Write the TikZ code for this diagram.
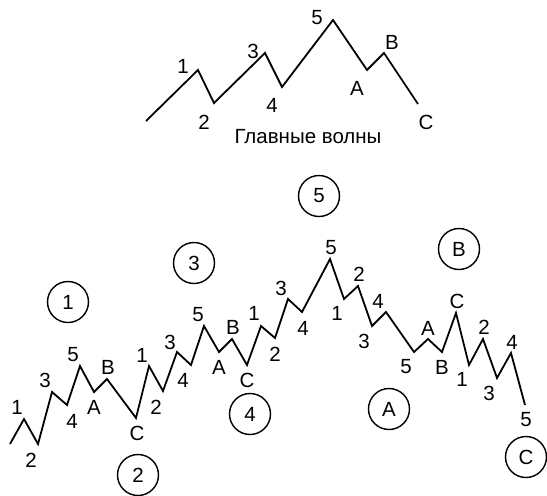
\documentclass[tikz,border=0pt]{standalone}
\usepackage{fontspec}
\setmainfont{Liberation Sans}
\begin{document}
\begin{tikzpicture}[x=1pt,y=-1pt,
  wave/.style={line width=1.8pt,line join=miter},
  lbl/.style={font=\fontsize{20.5}{24}\selectfont,inner sep=0pt},
  ring/.style={circle,draw,line width=1.4pt,minimum size=41pt,inner sep=0pt,font=\fontsize{20.5}{24}\selectfont}]
\useasboundingbox (0,0) rectangle (547,496);

% ---- main waves (top)
\foreach \n/\x/\y in {s/146/121,p1/198/70,p2/214/103,p3/265/53,p4/282/87,p5/333/20,pA/367/70,pB/384/53,pC/418/104}
  \coordinate (t\n) at (\x,\y);
\draw[wave] (ts) -- (tp1) -- (tp2) -- (tp3) -- (tp4) -- (tp5) -- (tpA) -- (tpB) -- (tpC);
\foreach \t/\x/\y in {1/183/66,2/204/122,3/253/51,4/272/105,5/317/18,A/357/88,B/392/42,C/426/122}
  \node[lbl] (tl\t) at (\x,\y) {\t};
\node[lbl] (title) at (308,137) {Главные волны};

% ---- detailed waves (bottom)
\foreach \n/\x/\y in {0/10/444,1/24/419,2/38/444,3/52/392,4/67/405,5/80/366,6/94/392,7/107/379,8/136/418,
  9/149/366,10/163/391,11/177/352,12/191/365,13/204/326,14/219/352,15/232/339,16/247/365,
  17/261/326,18/275/338,19/288/299,20/302/312,21/330/259,
  22/344/299,23/358/286,24/372/326,25/386/312,26/414/352,27/428/339,28/442/352,
  29/456/313,30/469/365,31/483/339,32/497/378,33/511/353,34/525/405}
  \coordinate (b\n) at (\x,\y);
\draw[wave] (b0)
  \foreach \i in {1,...,34} { -- (b\i) };

\foreach \i/\t/\x/\y in {1/1/17/407,2/2/31/460,3/3/45/380,4/4/72/421,5/5/73/355,6/A/94/407,7/B/108/367,8/C/137/433,
  9/1/142/355,10/2/156/407,11/3/170/342,12/4/183/380,13/5/198/315,14/A/219/367,15/B/233/327,16/C/247/380,
  17/1/254/313,18/2/275/354,19/3/281/288,20/4/303/328,21/5/331/248,
  22/1/337/313,23/2/359/274,24/3/364/341,25/4/378/301,26/5/406/367,27/A/428/328,28/B/442/367,
  29/C/457/301,30/1/462/379,31/2/484/327,32/3/489/393,33/4/512/342,34/5/526/420}
  \node[lbl] (bl\i) at (\x,\y) {\t};

% ---- wave degree markers
\node[ring] (c1) at (68,302) {1};
\node[ring] (c2) at (138,475) {2};
\node[ring] (c3) at (194,263) {3};
\node[ring] (c4) at (250,414) {4};
\node[ring] (c5) at (319,196) {5};
\node[ring] (cA) at (389,409) {A};
\node[ring] (cB) at (459,249) {B};
\node[ring] (cC) at (526,457) {C};
\end{tikzpicture}
\end{document}
